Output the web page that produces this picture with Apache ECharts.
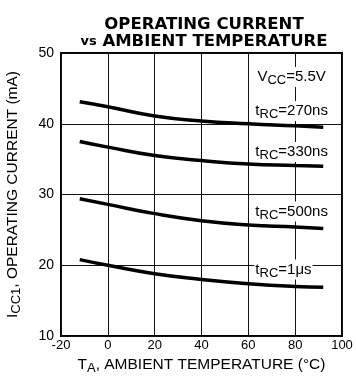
<!DOCTYPE html>
<html lang="en">
<head>
	<meta charset="UTF-8">
	<title>Operating current</title>
	<script type="text/javascript" src="https://cdn.jsdelivr.net/npm/echarts@6/dist/echarts.min.js"></script>
	<style type="text/css">
		body{margin:0;background:#fff;}
	</style>
</head>
<body>
	<div id="main" style="width:356px;height:378px;"></div>
	<script>
		// temperature points (°C)
		var temps = [-12, 0, 20, 40, 60, 80, 92];
		// Icc1 in mA for each read cycle time
		var i270 = [43.1, 42.4, 41.1, 40.4, 40.0, 39.7, 39.5];
		var i330 = [37.5, 36.7, 35.5, 34.8, 34.3, 34.1, 34.0];
		var i500 = [29.4, 28.6, 27.3, 26.3, 25.7, 25.4, 25.2];
		var i1us = [20.8, 20.0, 18.8, 18.0, 17.4, 17.0, 16.9];
		var xTicks = [-20, 0, 20, 40, 60, 80, 100];
		var yTicks = [10, 20, 30, 40, 50];

		var font = 'Liberation Sans, Arial, sans-serif';
		var sub = {fontSize: 13, fontFamily: font, color: '#000', padding: [7, 0, 0, 0]};

		function pairs(ys){
			var out = [];
			for(var i = 0; i < temps.length; i++){
				out.push([temps[i], ys[i]]);
			}
			return out;
		}

		// label placed with white box, like the printed sheet
		function tag(text, x, y){
			return {
				coord: [x, y],
				symbol: 'circle',
				symbolSize: 1,
				itemStyle: {color: 'rgba(0,0,0,0)'},
				label: {
					show: true,
					position: 'inside',
					formatter: text,
					fontSize: 15,
					fontFamily: font,
					color: '#000',
					backgroundColor: '#fff',
					padding: [0, 1, 0, 1],
					rich: {s: sub}
				}
			};
		}

		function curve(name, ys, marks){
			return {
				name: name,
				type: 'line',
				smooth: true,
				showSymbol: false,
				data: pairs(ys),
				lineStyle: {color: '#000', width: 3.5},
				z: 3,
				markPoint: {
					data: marks,
					z: 5,
					silent: true
				}
			};
		}

		var chart = echarts.init(document.getElementById('main'));
		var option = {
			animation: false,
			title: {
				text: 'OPERATING CURRENT\n{v|vs} AMBIENT TEMPERATURE',
				left: 199,
				top: 11,
				textAlign: 'center',
				textStyle: {
					fontSize: 16.5,
					fontWeight: 'bold',
					fontFamily: 'DejaVu Sans, sans-serif',
					color: '#000',
					lineHeight: 17,
					rich: {v: {fontSize: 13, fontWeight: 'bold', fontFamily: 'DejaVu Sans, sans-serif', color: '#000', lineHeight: 17}}
				}
			},
			grid: {
				left: 61, right: 14, top: 53, bottom: 42,
				containLabel: false,
				outerBoundsMode: 'none',
				show: true, borderColor: '#000', borderWidth: 2
			},
			xAxis: {
				type: 'value',
				min: xTicks[0], max: xTicks[xTicks.length - 1], interval: 20,
				name: 'T{s|A}, AMBIENT TEMPERATURE (°C)',
				nameLocation: 'middle',
				nameGap: 17,
				nameTextStyle: {fontSize: 15.5, fontFamily: font, color: '#000', rich: {s: sub}},
				axisLine: {show: false},
				axisTick: {show: false},
				axisLabel: {fontSize: 13, fontFamily: font, color: '#000', margin: 3},
				splitLine: {lineStyle: {color: '#111', width: 1}}
			},
			yAxis: {
				type: 'value',
				min: yTicks[0], max: yTicks[yTicks.length - 1], interval: 10,
				name: 'I{s|CC1}, OPERATING CURRENT (mA)',
				nameLocation: 'middle',
				nameRotate: 90,
				nameGap: 38,
				nameTextStyle: {fontSize: 15.5, fontFamily: font, color: '#000', rich: {s: sub}},
				axisLine: {show: false},
				axisTick: {show: false},
				axisLabel: {fontSize: 14, fontFamily: font, color: '#000', margin: 7},
				splitLine: {lineStyle: {color: '#111', width: 1}}
			},
			series: [
				curve('270ns', i270, [tag('V{s|CC}=5.5V', 78.5, 46.6), tag('t{s|RC}=270ns', 78.5, 41.8)]),
				curve('330ns', i330, [tag('t{s|RC}=330ns', 78.5, 36.0)]),
				curve('500ns', i500, [tag('t{s|RC}=500ns', 78.5, 27.6)]),
				curve('1us', i1us, [tag('t{s|RC}=1\u03bcs', 75, 19.4)])
			]
		};
		chart.setOption(option);
	</script>
</body>
</html>
